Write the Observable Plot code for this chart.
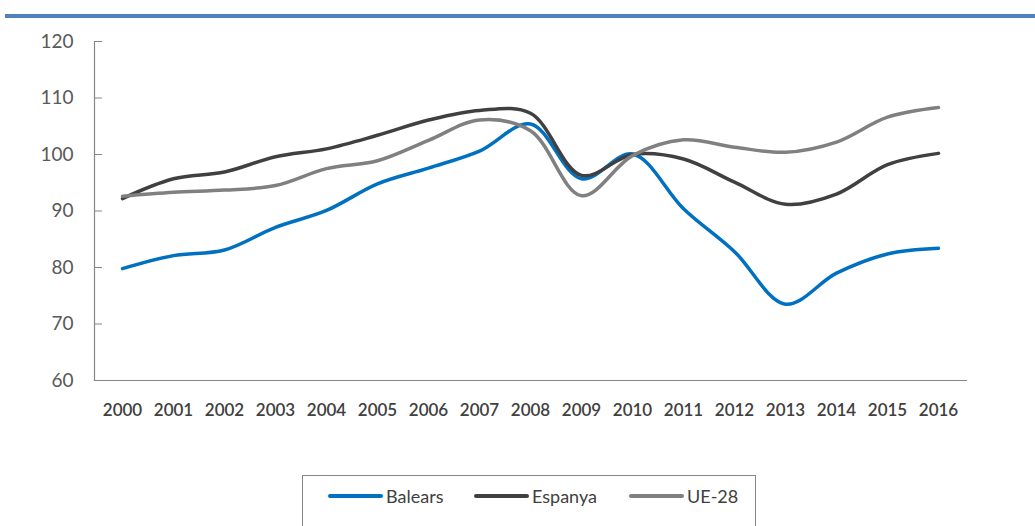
<!DOCTYPE html>
<html>
<head>
<meta charset="utf-8">
<script src="https://cdn.jsdelivr.net/npm/d3@7"></script>
<script src="https://cdn.jsdelivr.net/npm/@observablehq/plot@0.6"></script>
<style>
  html, body { margin: 0; padding: 0; background: #fff; overflow: hidden; }
  body { width: 1035px; height: 526px; position: relative; font-family: Lato, "Open Sans", sans-serif; }
  #topbar { position: absolute; left: 5px; top: 14px; width: 1030px; height: 4px; background: #4f81bd; }
  #chart { position: absolute; left: 0; top: 0; }
  #legend { position: absolute; left: 302px; top: 475px; width: 454px; height: 80px; border: 1px solid #868686; box-sizing: border-box; }
  .item { position: absolute; top: 8px; height: 24px; display: flex; align-items: center; font-size: 18px; color: #404040; }
  .swatch { width: 55px; height: 4px; border-radius: 2px; margin-right: 3px; }
</style>
</head>
<body>
<div id="topbar"></div>
<div id="chart"></div>
<div id="legend"></div>
<script>
const years = ["2000","2001","2002","2003","2004","2005","2006","2007","2008","2009","2010","2011","2012","2013","2014","2015","2016"];
const seriesNames = ["Balears", "Espanya", "UE-28"];
const balears = [79.8, 82.1, 83.1, 87.1, 90.1, 94.8, 97.6, 100.6, 105.4, 95.7, 100.1, 90.4, 82.8, 73.5, 79.0, 82.4, 83.4];
const espanya = [92.2, 95.7, 96.9, 99.6, 101.0, 103.4, 106.1, 107.8, 107.3, 96.3, 100.0, 99.2, 95.1, 91.2, 93.0, 98.2, 100.2];
const ue28 = [92.6, 93.3, 93.7, 94.5, 97.5, 98.9, 102.5, 106.1, 104.2, 92.7, 99.8, 102.6, 101.3, 100.4, 102.2, 106.6, 108.3];
const yTicks = [60, 70, 80, 90, 100, 110, 120];
const colors = ["#0070c0", "#404040", "#808080"];

const seriesValues = [balears, espanya, ue28];
const data = [];
seriesNames.forEach((s, si) => {
  years.forEach((yr, i) => data.push({series: s, year: yr, value: seriesValues[si][i]}));
});

const tickShape = {draw(context, l) { context.moveTo(0, 0); context.lineTo(0, -l); }};

const chart = Plot.plot({
  width: 1035,
  height: 430,
  marginLeft: 94,
  marginRight: 69,
  marginTop: 41,
  marginBottom: 50,
  style: {fontFamily: "Lato, 'Open Sans', sans-serif", background: "transparent"},
  x: {type: "point", domain: years, padding: 0.5, label: null},
  y: {domain: [60, 120], label: null},
  color: {domain: seriesNames, range: colors},
  marks: [
    Plot.frame({anchor: "left", stroke: "#868686", strokeWidth: 1.2}),
    Plot.frame({anchor: "bottom", stroke: "#868686", strokeWidth: 1.2}),
    Plot.vector(yTicks, {y: d => d, frameAnchor: "left", rotate: 90, length: 7, anchor: "start", shape: tickShape, stroke: "#868686", strokeWidth: 1.2}),
    Plot.axisY({ticks: yTicks, tickSize: 0, tickPadding: 21, fontSize: 19, fill: "#595959", label: null}),
    Plot.axisX({tickSize: 0, tickPadding: 23, fontSize: 17, fontWeight: 600, fill: "#404040", label: null}),
    Plot.line(data, {x: "year", y: "value", z: "series", stroke: "series", strokeWidth: 3.5, curve: "catmull-rom"})
  ]
});
document.getElementById("chart").appendChild(chart);

const legend = document.getElementById("legend");
const lefts = [25, 171, 326];
seriesNames.forEach((s, i) => {
  const it = document.createElement("div");
  it.className = "item";
  it.style.left = lefts[i] + "px";
  const sw = document.createElement("div");
  sw.className = "swatch";
  sw.style.background = colors[i];
  it.appendChild(sw);
  const t = document.createElement("span");
  t.textContent = s;
  it.appendChild(t);
  legend.appendChild(it);
});
</script>
</body>
</html>
